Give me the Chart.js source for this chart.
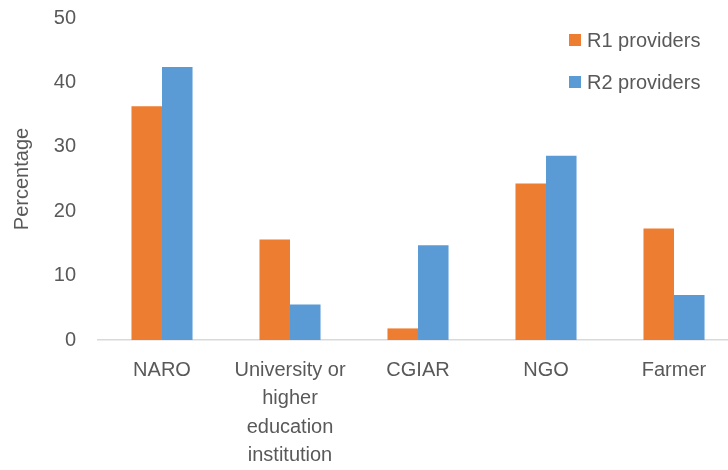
<!DOCTYPE html>
<html>
<head>
<meta charset="utf-8">
<script src="https://cdn.jsdelivr.net/npm/chart.js@4"></script>
<style>
html,body{margin:0;padding:0;background:#fff;overflow:hidden;}
#wrap{position:relative;width:740px;height:470px;}
</style>
</head>
<body>
<div id="wrap"><canvas id="c"></canvas></div>
<script>
const categories = ['NARO', ['University or','higher','education','institution'], 'CGIAR', 'NGO', 'Farmer'];
const seriesNames = ['R1 providers', 'R2 providers'];
const r1Values = [36.3, 15.6, 1.8, 24.3, 17.3];
const r2Values = [42.4, 5.5, 14.7, 28.6, 7.0];
const yTicks = [0, 10, 20, 30, 40, 50];

const FONT = '"Liberation Sans", Arial, sans-serif';
const TXT = '#595959';
const FS = 20;

const legendPlugin = {
  id: 'vlegend',
  afterDraw(chart) {
    const ctx = chart.ctx;
    ctx.save();
    ctx.font = FS + 'px ' + FONT;
    ctx.textBaseline = 'middle';
    ctx.textAlign = 'left';
    chart.data.datasets.forEach((ds, i) => {
      const y = 40 + i * 42;
      ctx.fillStyle = ds.backgroundColor;
      ctx.fillRect(569, y - 6, 12, 12);
      ctx.fillStyle = TXT;
      ctx.fillText(ds.label, 587, y + 1);
    });
    ctx.restore();
  }
};

new Chart(document.getElementById('c'), {
  type: 'bar',
  data: {
    labels: categories,
    datasets: [
      { label: seriesNames[0], data: r1Values, backgroundColor: '#ED7D31' },
      { label: seriesNames[1], data: r2Values, backgroundColor: '#5B9BD5' }
    ]
  },
  options: {
    responsive: true,
    maintainAspectRatio: false,
    animation: false,
    layout: { padding: { top: 18, right: 2, left: 0, bottom: 0 } },
    datasets: { bar: { barPercentage: 1.0, categoryPercentage: 0.477 } },
    plugins: { legend: { display: false }, tooltip: { enabled: false } },
    scales: {
      x: {
        grid: { display: false, drawTicks: false },
        border: { display: true, color: '#d9d9d9', width: 1.5 },
        ticks: { color: TXT, font: { family: FONT, size: FS, lineHeight: 1.42 }, padding: 16, maxRotation: 0, autoSkip: false },
        afterFit: s => { s.height = 130; s.paddingLeft = 0; s.paddingRight = 0; }
      },
      y: {
        min: 0, max: 50,
        afterBuildTicks: s => { s.ticks = yTicks.map(v => ({ value: v })); },
        grid: { display: false, drawTicks: false },
        border: { display: false },
        ticks: { color: TXT, font: { family: FONT, size: FS }, padding: 22 },
        title: { display: true, text: 'Percentage', color: TXT, font: { family: FONT, size: FS }, padding: { top: 10, bottom: 0 } },
        afterFit: s => { s.width = 98; s.paddingTop = 0; s.paddingBottom = 0; }
      }
    }
  },
  plugins: [legendPlugin]
});
</script>
</body>
</html>
